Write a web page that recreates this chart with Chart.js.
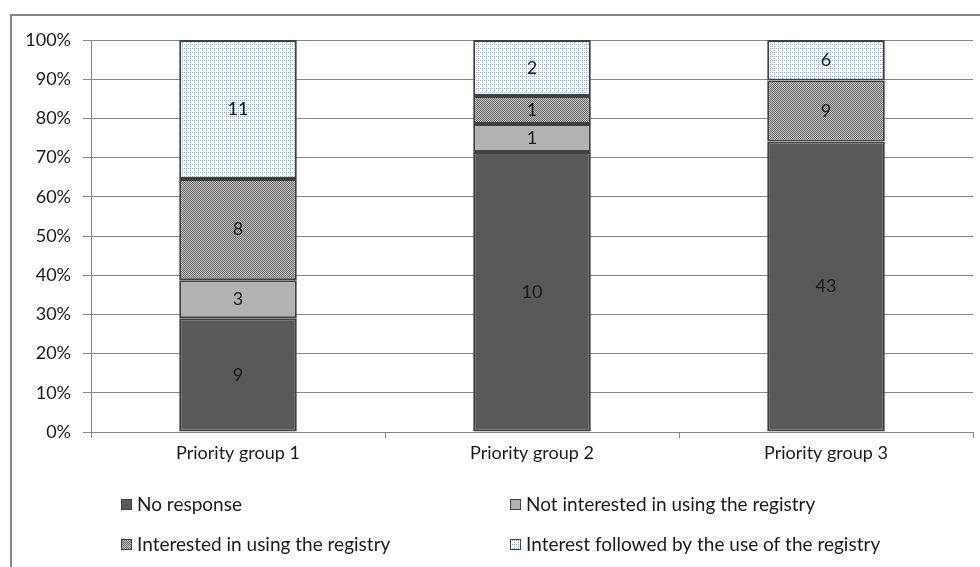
<!DOCTYPE html>
<html>
<head>
<meta charset="utf-8">
<script src="https://cdn.jsdelivr.net/npm/chart.js@4.4.1/dist/chart.umd.min.js"></script>
<style>
  html, body { margin: 0; padding: 0; background: #fff; }
  #wrap { width: 980px; height: 567px; position: relative; }
</style>
</head>
<body>
<div id="wrap"><canvas id="stackChart" width="980" height="567"></canvas></div>
<script>
// counts per priority group
const categories = ['Priority group 1', 'Priority group 2', 'Priority group 3'];
const noResponse = [9, 10, 43];
const notInterested = [3, 1, 0];
const interested = [8, 1, 9];
const interestUse = [11, 2, 6];
const seriesNames = [
  'No response',
  'Not interested in using the registry',
  'Interested in using the registry',
  'Interest followed by the use of the registry'
];
const yTicks = [0, 10, 20, 30, 40, 50, 60, 70, 80, 90, 100];

const FONT = 'Lato, "Open Sans", sans-serif';

function makePattern(size, bg, fg, dots) {
  const c = document.createElement('canvas');
  c.width = size; c.height = size;
  const g = c.getContext('2d');
  g.fillStyle = bg;
  g.fillRect(0, 0, size, size);
  g.fillStyle = fg;
  dots.forEach(d => g.fillRect(d[0], d[1], 1, 1));
  return g.createPattern(c, 'repeat');
}

const checkPattern = makePattern(2, '#c8c8c8', '#646464', [[0, 0], [1, 1]]);
const dotPattern = makePattern(4, '#ffffff', '#86a8dc', [[0, 0], [2, 2], [2, 0]]);

const fills = ['#595959', '#b2b2b2', checkPattern, dotPattern];
const counts = [noResponse, notInterested, interested, interestUse];
const totals = categories.map((_, i) => counts.reduce((s, a) => s + a[i], 0));
const percents = counts.map(a => a.map((v, i) => v / totals[i] * 100));

// value labels in the middle of each segment + legend + outer frame
const extras = {
  id: 'extras',
  afterDatasetsDraw(chart) {
    const ctx = chart.ctx;
    ctx.save();
    ctx.font = '18px ' + FONT;
    ctx.fillStyle = '#1a1a1a';
    ctx.textAlign = 'center';
    ctx.textBaseline = 'middle';
    chart.data.datasets.forEach((ds, di) => {
      chart.getDatasetMeta(di).data.forEach((bar, i) => {
        const v = counts[di][i];
        if (!v) return;
        ctx.fillText(String(v), bar.x, (bar.y + bar.base) / 2);
      });
    });
    ctx.restore();
  },
  afterDraw(chart) {
    const ctx = chart.ctx;
    ctx.save();
    // frame
    ctx.strokeStyle = '#868686';
    ctx.lineWidth = 2;
    ctx.beginPath();
    ctx.moveTo(11, 567);
    ctx.lineTo(11, 15);
    ctx.lineTo(980, 15);
    ctx.stroke();
    // legend in two columns
    const pos = [[121, 504], [510, 504], [121, 544], [510, 544]];
    ctx.font = '19px ' + FONT;
    ctx.textBaseline = 'middle';
    ctx.textAlign = 'left';
    seriesNames.forEach((name, k) => {
      const [x, y] = pos[k];
      ctx.fillStyle = fills[k];
      ctx.fillRect(x, y - 5, 11, 11);
      ctx.strokeStyle = '#404040';
      ctx.lineWidth = 1;
      ctx.strokeRect(x + 0.5, y - 4.5, 10, 10);
      ctx.fillStyle = '#1a1a1a';
      ctx.fillText(name, x + 16, y + 1);
    });
    ctx.restore();
  }
};

const ctx = document.getElementById('stackChart').getContext('2d');
const stackChart = new Chart(ctx, {
  type: 'bar',
  data: {
    labels: categories,
    datasets: seriesNames.map((name, k) => ({
      label: name,
      data: percents[k],
      backgroundColor: fills[k],
      borderColor: '#404040',
      borderWidth: 2,
      borderSkipped: false,
      barPercentage: 0.8,
      categoryPercentage: 0.5
    }))
  },
  options: {
    responsive: false,
    animation: false,
    layout: { padding: { left: 0, right: 7, top: 40, bottom: 95 } },
    plugins: {
      legend: { display: false },
      tooltip: { enabled: false }
    },
    scales: {
      x: {
        stacked: true,
        grid: {
          display: true,
          offset: true,
          drawOnChartArea: false,
          drawTicks: true,
          tickLength: 6,
          color: '#868686'
        },
        border: { color: '#868686' },
        ticks: { color: '#1a1a1a', font: { family: FONT, size: 18 }, padding: 4 },
        afterFit: s => { s.height = 40; }
      },
      y: {
        stacked: true,
        min: 0,
        max: 100,
        afterBuildTicks: s => { s.ticks = yTicks.map(v => ({ value: v })); },
        grid: { color: '#868686', tickLength: 8 },
        border: { color: '#868686' },
        ticks: {
          color: '#1a1a1a',
          font: { family: FONT, size: 18 },
          padding: 12,
          callback: v => v + '%'
        },
        afterFit: s => { s.width = 91; }
      }
    }
  },
  plugins: [extras]
});
</script>
</body>
</html>
